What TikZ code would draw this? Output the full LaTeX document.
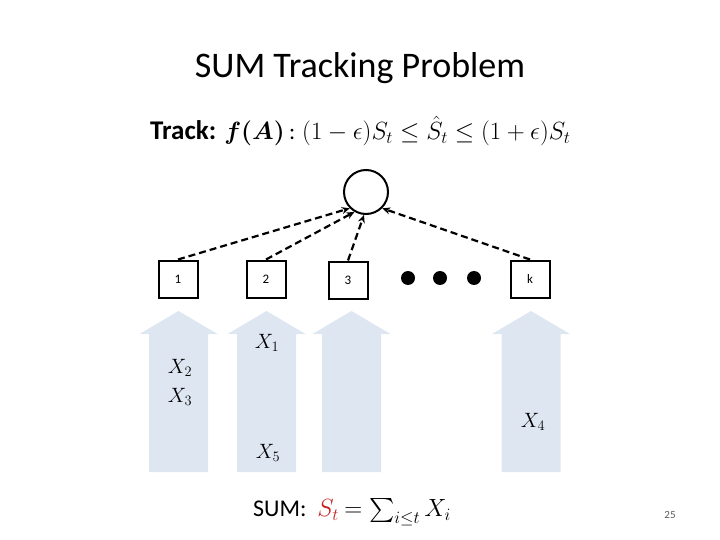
\documentclass[tikz,border=0pt]{standalone}
\usepackage{amsmath,amssymb,bm}
\usepackage{fontspec}
\setmainfont{Carlito}
\usetikzlibrary{arrows.meta}
\definecolor{barblue}{RGB}{222,230,241}
\definecolor{sred}{RGB}{200,30,30}
\begin{document}
\begin{tikzpicture}[x=1pt,y=-1pt,
  bx/.style={draw,line width=2pt,minimum width=39pt,minimum height=37pt,inner sep=0pt,font=\fontsize{13}{13}\selectfont},
  dsh/.style={-{Stealth[length=8pt,width=7pt]},dashed,dash pattern=on 7pt off 4pt,line width=2.2pt},
  xl/.style={font=\fontsize{22}{22}\selectfont}]
\useasboundingbox (0,0) rectangle (720,540);
\node (title) at (360,68) {\fontsize{36}{36}\selectfont SUM Tracking Problem};
\node[anchor=west,inner sep=0pt] (track) at (150,131) {\fontsize{27}{27}\selectfont\textbf{Track:} $\bm{f(A)}$\,{\fontsize{23}{23}\selectfont: $(1-\epsilon)S_t\le \hat S_t\le (1+\epsilon)S_t$}};
\node[draw,circle,line width=2pt,minimum size=44pt,inner sep=0pt] (c) at (366,192) {};
\node[bx] (b1) at (178,279) {1};
\node[bx] (b2) at (266,279) {2};
\node[bx] (b3) at (348,280) {3};
\node[bx] (bk) at (530,279) {k};
\foreach \x/\n in {408/d1,440/d2,474/d3} \fill (\x,278) circle (7pt) coordinate (\n);
\draw[dsh] (b1.north) -- (c.225);
\draw[dsh] (b2.north) -- (c.240);
\draw[dsh] (b3.north) -- (c.265);
\draw[dsh] (bk.north) -- (c.315);
\foreach \cx in {178.5,266.5,351.5,531} {
  \fill[barblue] (\cx-29.5,472) -- (\cx-29.5,334) -- (\cx-39,334) -- (\cx,311) -- (\cx+39,334) -- (\cx+29.5,334) -- (\cx+29.5,472) -- cycle;}
\node[xl] (x2) at (180,368) {$X_2$};
\node[xl] (x3) at (180,397) {$X_3$};
\node[xl] (x1) at (267,343) {$X_1$};
\node[xl] (x5) at (268,453) {$X_5$};
\node[xl] (x4) at (533,422) {$X_4$};
\node (sum) at (352,512) {\fontsize{24}{24}\selectfont SUM:\ \ $\color{sred}S_t$ $=\sum_{i\le t} X_i$};
\node (pg) at (670,515) {\fontsize{11}{11}\selectfont\color{gray!70!black}25};
\end{tikzpicture}
\end{document}
